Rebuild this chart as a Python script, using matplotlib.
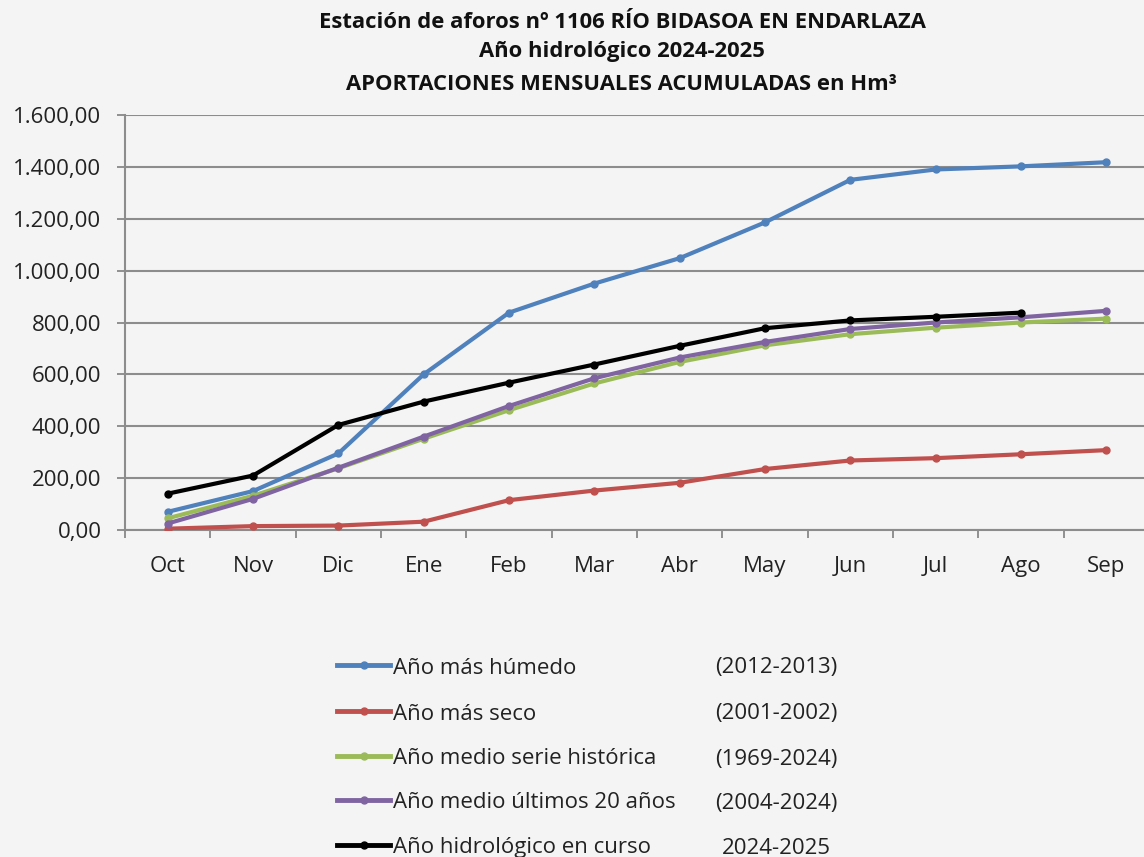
import matplotlib.pyplot as plt
from matplotlib.lines import Line2D
from matplotlib.ticker import FuncFormatter, FixedLocator

plt.rcParams['font.family'] = ['Open Sans', 'DejaVu Sans']

# === DATA (Hm3, accumulated monthly) ===
months = ["Oct", "Nov", "Dic", "Ene", "Feb", "Mar", "Abr", "May", "Jun", "Jul", "Ago", "Sep"]

humedo = [70, 150, 295, 600, 838, 950, 1048, 1186, 1350, 1390, 1402, 1418]
seco = [5, 15, 17, 32, 115, 152, 182, 235, 268, 277, 292, 308]
medio_hist = [45, 132, 238, 352, 462, 565, 648, 712, 755, 780, 800, 815]
medio_20 = [25, 120, 240, 360, 478, 585, 665, 725, 775, 800, 820, 845]
en_curso = [140, 210, 405, 495, 568, 638, 710, 778, 808, 822, 838]

labels = ["Año más húmedo", "Año más seco", "Año medio serie histórica",
          "Año medio últimos 20 años", "Año hidrológico en curso"]
periods = ["(2012-2013)", "(2001-2002)", "(1969-2024)", "(2004-2024)", "2024-2025"]
colors = ["#4F81BD", "#C0504D", "#9BBB59", "#8064A2", "#000000"]

title_lines = ["Estación de aforos nº 1106 RÍO BIDASOA EN ENDARLAZA",
               "Año hidrológico 2024-2025",
               "APORTACIONES MENSUALES ACUMULADAS en Hm³"]
# ======================================

W, H = 1144, 857
fig = plt.figure(figsize=(W / 100, H / 100), dpi=100, facecolor="#f4f4f4")
ax = fig.add_axes([125 / W, 1 - 530 / H, 1024 / W, 415 / H])
ax.set_facecolor("none")

series = [humedo, seco, medio_hist, medio_20, en_curso]
for vals, col, lab in zip(series, colors, labels):
    ax.plot(range(len(vals)), vals, color=col, lw=3, marker="o", ms=5,
            label=lab, zorder=3)

ax.set_xlim(-0.5, 11.5)
ax.set_ylim(0, 1600)
ax.set_yticks(range(0, 1601, 200))
ax.yaxis.set_major_formatter(FuncFormatter(
    lambda v, p: f"{v:,.2f}".replace(",", "X").replace(".", ",").replace("X", ".")))
ax.set_xticks(range(12))
ax.set_xticklabels(months)
ax.xaxis.set_minor_locator(FixedLocator([i - 0.5 for i in range(13)]))
ax.tick_params(axis="x", which="major", length=0, pad=19, labelsize=16, colors="#222222")
ax.tick_params(axis="x", which="minor", length=6, width=1.3, color="#888888")
ax.tick_params(axis="y", length=6, width=1.3, color="#888888", pad=11,
               labelsize=16, labelcolor="#222222")

ax.grid(axis="y", color="#8c8c8c", lw=1.5, zorder=0)
for s in ["top", "right"]:
    ax.spines[s].set_visible(False)
for s in ["left", "bottom"]:
    ax.spines[s].set_color("#8c8c8c")
    ax.spines[s].set_linewidth(1.5)

for line, y in zip(title_lines, [22, 52, 84]):
    fig.text(622 / W, 1 - y / H, line, ha="center", va="center", fontsize=15.8,
             fontweight="bold", color="#111111")

# legend drawn row by row so the period column lines up
row_y = [665, 711, 756, 800, 845]
for lab, per, col, y in zip(labels, periods, colors, row_y):
    yy = 1 - y / H
    ty = 1 - (y + 3) / H
    fig.add_artist(Line2D([337 / W, 363.5 / W, 390 / W], [yy, yy, yy], color=col,
                          lw=3.5, marker="o", ms=5, markevery=[1]))
    fig.text(393 / W, ty, lab, ha="left", va="center", fontsize=16, color="#222222")
    fig.text(776 / W, ty, per, ha="center", va="center", fontsize=16, color="#222222")

plt.savefig("out.png", dpi=100, facecolor=fig.get_facecolor())
